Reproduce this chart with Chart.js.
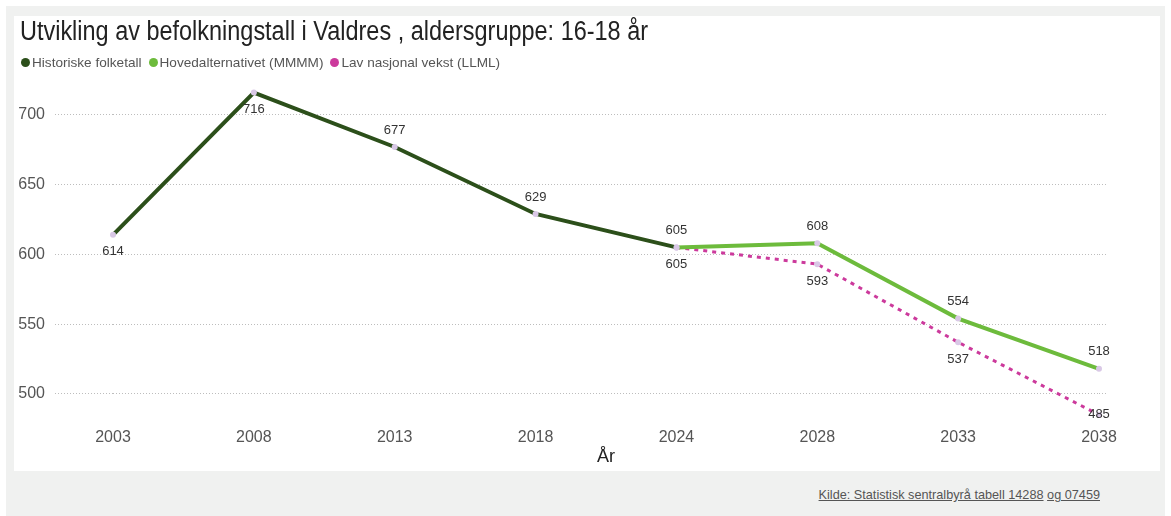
<!DOCTYPE html>
<html>
<head>
<meta charset="utf-8">
<script src="https://cdn.jsdelivr.net/npm/chart.js@4.4.1/dist/chart.umd.min.js"></script>
<style>
  html, body { margin: 0; padding: 0; background: #ffffff; }
  body { width: 1171px; height: 516px; position: relative; overflow: hidden; font-family: "Liberation Sans", Arial, sans-serif; }
  #outer { position: absolute; left: 6px; top: 6px; width: 1159px; height: 510px; background: #f0f1f0; }
  #panel { position: absolute; left: 14px; top: 16px; width: 1146px; height: 455px; background: #ffffff; }
  #c { position: absolute; left: 0; top: 0; }
  #title { position: absolute; left: 20px; top: 16px; font-size: 27px; line-height: 30px; color: #222; white-space: nowrap; transform-origin: 0 0; }
  #legend { position: absolute; left: 21px; top: 54px; height: 17px; display: flex; align-items: center; font-size: 13.6px; color: #555; white-space: nowrap; }
  #legend .item { display: flex; align-items: center; margin-right: 7px; }
  #legend .dot { width: 9px; height: 9px; border-radius: 50%; margin-right: 2px; }
  #footer { position: absolute; right: 71px; top: 488px; font-size: 12.7px; color: #555; white-space: nowrap; }
  #footer span { text-decoration: underline; }
</style>
</head>
<body>
<div id="outer"></div>
<div id="panel"><canvas id="c" width="1146" height="455"></canvas></div>
<div id="title"></div>
<div id="legend"></div>
<div id="footer"><span>Kilde: Statistisk sentralbyrå tabell 14288</span> <span>og 07459</span></div>
<script>
const categories = ['2003', '2008', '2013', '2018', '2024', '2028', '2033', '2038'];
const historiske = [614, 716, 677, 629, 605, null, null, null];
const hovedalternativet = [null, null, null, null, 605, 608, 554, 518];
const lavVekst = [null, null, null, null, 605, 593, 537, 485];
const yTicks = [500, 550, 600, 650, 700];
const titleText = 'Utvikling av befolkningstall i Valdres , aldersgruppe: 16-18 år';
const seriesNames = ['Historiske folketall', 'Hovedalternativet (MMMM)', 'Lav nasjonal vekst (LLML)'];
const seriesColors = ['#2c4f1a', '#6dbb3c', '#cc3a9c'];

const FONT = '"Liberation Sans", Arial, sans-serif';

// title (real text), squeezed horizontally to match the reference face
const titleEl = document.getElementById('title');
titleEl.textContent = titleText;
const tw = titleEl.getBoundingClientRect().width;
titleEl.style.transform = 'scaleX(' + (628 / tw) + ')';

// legend
const legendEl = document.getElementById('legend');
seriesNames.forEach((name, i) => {
  const item = document.createElement('div');
  item.className = 'item';
  const dot = document.createElement('span');
  dot.className = 'dot';
  dot.style.background = seriesColors[i];
  const txt = document.createElement('span');
  txt.textContent = name;
  item.appendChild(dot);
  item.appendChild(txt);
  legendEl.appendChild(item);
});

// label placement for each dataset (style, not data)
const labelPlacement = [
  (i) => (i <= 1 ? 'below' : 'above'),
  (i) => (i === 4 ? 'none' : 'above'),
  (i) => 'below'
];

const valueLabels = {
  id: 'valueLabels',
  afterDatasetsDraw(chart) {
    const ctx = chart.ctx;
    const area = chart.chartArea;
    ctx.save();
    ctx.font = '13px ' + FONT;
    ctx.fillStyle = '#333';
    ctx.textAlign = 'center';
    ctx.textBaseline = 'middle';
    chart.data.datasets.forEach((ds, di) => {
      const meta = chart.getDatasetMeta(di);
      meta.data.forEach((pt, i) => {
        const v = ds.data[i];
        if (v === null || v === undefined) return;
        const place = labelPlacement[di](i);
        if (place === 'none') return;
        const dy = place === 'above' ? -17 : 17;
        let y = pt.y + dy;
        y = Math.min(Math.max(y, area.top + 7), area.bottom - 7);
        ctx.fillText(String(v), pt.x, y);
      });
    });
    ctx.restore();
  }
};

const keepTicks = (scale) => { scale.ticks = yTicks.map(v => ({ value: v })); };

const mkDataset = (i, data, extra) => Object.assign({
  label: seriesNames[i], data: data,
  borderColor: seriesColors[i], backgroundColor: seriesColors[i], borderWidth: 4,
  pointRadius: 3, pointBackgroundColor: '#d9c8e6', pointBorderWidth: 0,
  tension: 0
}, extra || {});

new Chart(document.getElementById('c'), {
  type: 'line',
  data: {
    labels: categories,
    datasets: [
      mkDataset(0, historiske),
      mkDataset(1, hovedalternativet),
      mkDataset(2, lavVekst, { borderWidth: 3, borderDash: [4, 5] })
    ]
  },
  options: {
    responsive: false,
    animation: false,
    layout: { padding: { left: 0, right: 52, top: 71, bottom: 10 } },
    plugins: {
      title: { display: false },
      legend: { display: false },
      tooltip: { enabled: false }
    },
    scales: {
      x: {
        type: 'category', offset: false,
        grid: { display: false, drawTicks: false, tickLength: 0 },
        border: { display: false },
        ticks: { color: '#555', font: { family: FONT, size: 16, lineHeight: 1 }, padding: 8, maxRotation: 0 },
        title: { display: true, text: 'År', color: '#222', font: { family: FONT, size: 18, lineHeight: 0.4 }, padding: { top: 0, bottom: 0 } }
      },
      y: {
        position: 'left', min: 480, max: 720,
        afterBuildTicks: keepTicks,
        afterFit: (scale) => { scale.width = 99; },
        border: { display: false, dash: [1, 2] },
        grid: { color: '#bdbdbd', tickLength: 58, tickColor: '#bdbdbd', tickBorderDash: [1, 2], drawTicks: true },
        ticks: { color: '#555', font: { family: FONT, size: 16 }, padding: 10 }
      },
      y2: {
        position: 'right', min: 480, max: 720,
        afterBuildTicks: keepTicks,
        afterFit: (scale) => { scale.width = 9; },
        border: { display: false, dash: [1, 2] },
        grid: { drawOnChartArea: false, tickLength: 9, tickColor: '#bdbdbd', tickBorderDash: [1, 2], drawTicks: true },
        ticks: { display: false }
      }
    }
  },
  plugins: [valueLabels]
});
</script>
</body>
</html>
